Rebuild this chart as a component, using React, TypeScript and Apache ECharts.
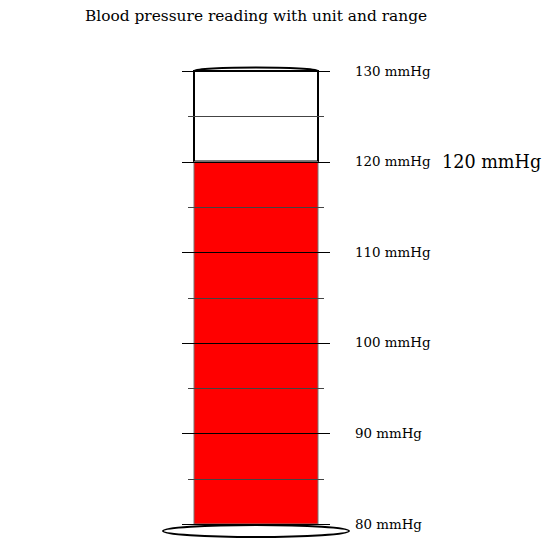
import React, { useEffect, useRef } from "react";
import * as echarts from "echarts";

const TITLE = "Blood pressure reading with unit and range";
const UNIT = "mmHg";
const RANGE_MIN = 80;
const RANGE_MAX = 130;
const READING = [120];
const MAJOR_TICKS = [80, 90, 100, 110, 120, 130];
const MINOR_TICKS = [85, 95, 105, 115, 125];
const FONT = "DejaVu Serif";

export default function App() {
  const ref = useRef<HTMLDivElement>(null);
  useEffect(() => {
    document.body.style.margin = "0";
    const chart = echarts.init(ref.current!, null, { renderer: "svg" });
    const reading = READING[0];
    chart.setOption({
      animation: false,
      title: {
        text: TITLE,
        left: 80,
        top: 3,
        textStyle: { fontFamily: FONT, fontSize: 15.4, fontWeight: "normal", color: "#000" },
      },
      grid: { left: 182, right: 549 - 330, top: 71, bottom: 546 - 524 },
      xAxis: { type: "category", data: ["reading"], show: false },
      yAxis: {
        type: "value",
        min: RANGE_MIN,
        max: RANGE_MAX,
        interval: 10,
        position: "right",
        axisLine: { show: false },
        axisTick: { show: false },
        splitLine: { show: false },
        axisLabel: {
          margin: 25,
          formatter: "{value} " + UNIT,
          fontFamily: FONT,
          fontSize: 13.4,
          color: "#000",
        },
      },
      series: [
        {
          type: "custom",
          clip: false,
          data: [[0, reading]],
          renderItem: (params: any, api: any) => {
            const v = api.value(1);
            const [cx, yTop] = api.coord([0, RANGE_MAX]);
            const [, yVal] = api.coord([0, v]);
            const [, yBot] = api.coord([0, RANGE_MIN]);
            const halfW = 62;
            const crisp = (y: number) => Math.round(y) + 0.5;
            const children: any[] = [];
            children.push({
              type: "ellipse",
              shape: { cx, cy: yTop, rx: halfW, ry: 3.5 },
              style: { fill: "#fff", stroke: "#000", lineWidth: 2 },
            });
            children.push({
              type: "rect",
              shape: { x: cx - halfW, y: yTop, width: halfW * 2, height: yVal - yTop },
              style: { fill: "#fff", stroke: "#000", lineWidth: 2 },
            });
            children.push({
              type: "rect",
              shape: { x: cx - halfW, y: yVal, width: halfW * 2, height: yBot - yVal },
              style: { fill: "#ff0000", stroke: "#777", lineWidth: 1 },
            });
            children.push({
              type: "ellipse",
              shape: { cx, cy: yBot + 7, rx: 93, ry: 6 },
              style: { fill: "#fff", stroke: "#000", lineWidth: 2 },
            });
            MINOR_TICKS.forEach((t) => {
              const y = crisp(api.coord([0, t])[1]);
              children.push({
                type: "line",
                shape: { x1: cx - 68, y1: y, x2: cx + 68, y2: y },
                style: { stroke: "#444", lineWidth: 1 },
              });
            });
            MAJOR_TICKS.forEach((t) => {
              const y = crisp(api.coord([0, t])[1]);
              children.push({
                type: "line",
                shape: { x1: cx - 74, y1: y, x2: cx + 74, y2: y },
                style: { stroke: "#000", lineWidth: 1 },
              });
            });
            children.push({
              type: "text",
              x: 442,
              y: yVal,
              style: {
                text: v + " " + UNIT,
                fontFamily: FONT,
                fontSize: 17.6,
                fill: "#000",
                align: "left",
                verticalAlign: "middle",
              },
            });
            return { type: "group", children };
          },
        },
      ],
    });
    return () => chart.dispose();
  }, []);
  return <div ref={ref} style={{ width: 549, height: 546 }} />;
}

const _unused = React;
